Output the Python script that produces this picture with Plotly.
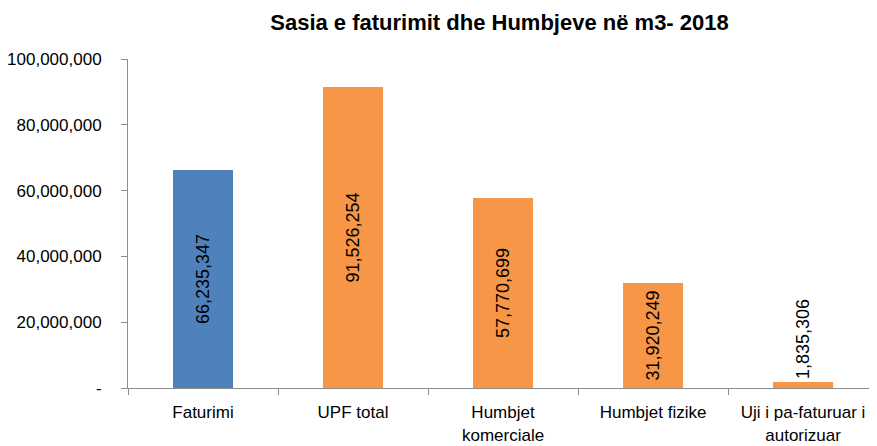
import plotly.graph_objects as go

categories = ["Faturimi", "UPF total", "Humbjet<br>komerciale", "Humbjet fizike", "Uji i pa-faturuar i<br>autorizuar"]
values = [66235347, 91526254, 57770699, 31920249, 1835306]
colors = ["#4F81BD", "#F79646", "#F79646", "#F79646", "#F79646"]
text_positions = ["inside", "inside", "inside", "inside", "outside"]
y_tickvals = [0, 20000000, 40000000, 60000000, 80000000, 100000000]
y_ticktext = ["-", "20,000,000", "40,000,000", "60,000,000", "80,000,000", "100,000,000"]

regular = "Liberation Sans, Arial, sans-serif"

fig = go.Figure(go.Bar(
    x=categories,
    y=values,
    marker=dict(color=colors, line=dict(width=0)),
    width=0.4,
    text=[f"{v:,}" for v in values],
    textposition=text_positions,
    textangle=-90,
    insidetextanchor="middle",
    textfont=dict(family=regular, size=18, color="#000000"),
    constraintext="none",
    cliponaxis=False,
))

fig.update_layout(
    width=869, height=438,
    margin=dict(l=120, r=0, t=51, b=58),
    paper_bgcolor="white", plot_bgcolor="white",
    title=dict(text="<b>Sasia e faturimit dhe Humbjeve në m3- 2018</b>",
               x=0.5656, xanchor="center", y=0.968, yanchor="middle",
               font=dict(family=regular, size=22, color="#000000")),
    showlegend=False,
)
fig.update_xaxes(
    range=[-0.5, 4.493],
    showline=True, linecolor="#8c8c8c", linewidth=1,
    ticks="outside", tickson="boundaries", ticklen=6, tickcolor="#8c8c8c",
    tickfont=dict(family=regular, size=17, color="#000000"),
    tickangle=0, automargin=False, ticklabelstandoff=9,
    showgrid=False,
)
fig.update_yaxes(
    range=[0, 100000000],
    tickvals=y_tickvals, ticktext=y_ticktext,
    showline=True, linecolor="#8c8c8c", linewidth=1,
    ticks="outside", ticklen=6, tickcolor="#8c8c8c",
    tickfont=dict(family=regular, size=17, color="#000000"),
    ticklabelstandoff=16, automargin=False,
    showgrid=False, zeroline=False,
)

fig.write_html("out.html")
